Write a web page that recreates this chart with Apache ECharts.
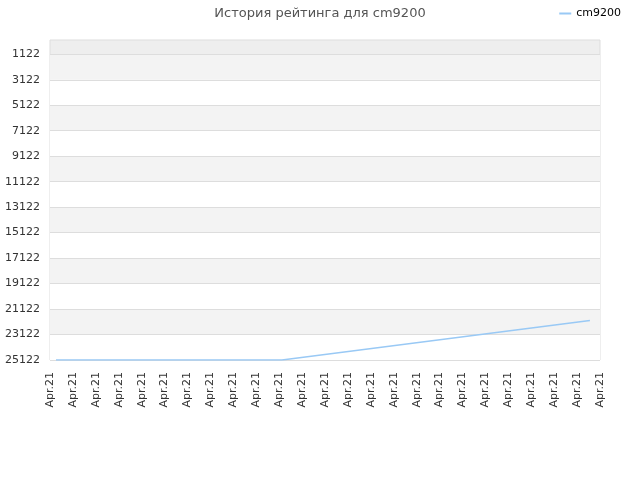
<!DOCTYPE html>
<html style="height: 100%">
<head>
  <meta charset="utf-8">
  <title>История рейтинга</title>
</head>
<body style="height: 100%; margin: 0">
<div id="container" style="width: 640px; height: 480px"></div>
<script type="text/javascript" src="https://cdn.jsdelivr.net/npm/echarts@6/dist/echarts.min.js"></script>
<script type="text/javascript">
  let dom = document.getElementById("container");
  let myChart = echarts.init(dom, null, {renderer: 'canvas'});

  // позиции по оси X (индекс метки) и рейтинг
  let xPos = [0.26, 10.12, 23.56]
  let rating = [25122, 25122, 22016]
  // подписи оси Y
  let yTicks = [1122, 3122, 5122, 7122, 9122, 11122, 13122, 15122, 17122, 19122, 21122, 23122, 25122]
  let xLabel = 'Apr.21'
  let xCount = 25

  let points = xPos.map((x, i) => [x, rating[i]])

  let option = {
    textStyle: {fontFamily: 'DejaVu Sans'},
    title: {
      text: 'История рейтинга для cm9200',
      left: 'center',
      top: 2,
      textStyle: {fontSize: 13, fontWeight: 'normal', color: '#555'}
    },
    legend: {
      right: 14,
      top: 3,
      itemWidth: 12,
      itemHeight: 2,
      itemGap: 6,
      icon: 'rect',
      textStyle: {fontSize: 11, color: '#000'},
      data: ['cm9200']
    },
    grid: {
      left: 50, right: 40, top: 40, bottom: 120,
      show: true,
      backgroundColor: '#eeeeee',
      borderColor: '#dddddd',
      borderWidth: 1
    },
    xAxis: {
      type: 'value',
      min: 0,
      max: xCount - 1,
      interval: 1,
      axisLine: {show: false},
      axisTick: {show: false},
      splitLine: {show: false},
      axisLabel: {
        rotate: 90,
        fontSize: 11,
        color: '#333',
        margin: 12,
        showMinLabel: true,
        showMaxLabel: true,
        formatter: () => xLabel
      }
    },
    yAxis: {
      type: 'value',
      inverse: true,
      min: 0,
      max: 25122,
      axisLine: {show: false},
      axisTick: {show: false, customValues: yTicks},
      axisLabel: {
        fontSize: 11, color: '#333', margin: 10, customValues: yTicks,
        formatter: v => String(v)
      },
      splitLine: {show: true, lineStyle: {color: '#dddddd'}},
      splitArea: {show: true, areaStyle: {color: ['#f3f3f3', '#ffffff']}}
    },
    series: [
      {
        name: 'cm9200',
        type: 'line',
        data: points,
        showSymbol: false,
        color: '#99c9f5',
        lineStyle: {width: 1.5}
      }
    ]
  };

  myChart.setOption(option, true);
</script>
</body>
</html>
